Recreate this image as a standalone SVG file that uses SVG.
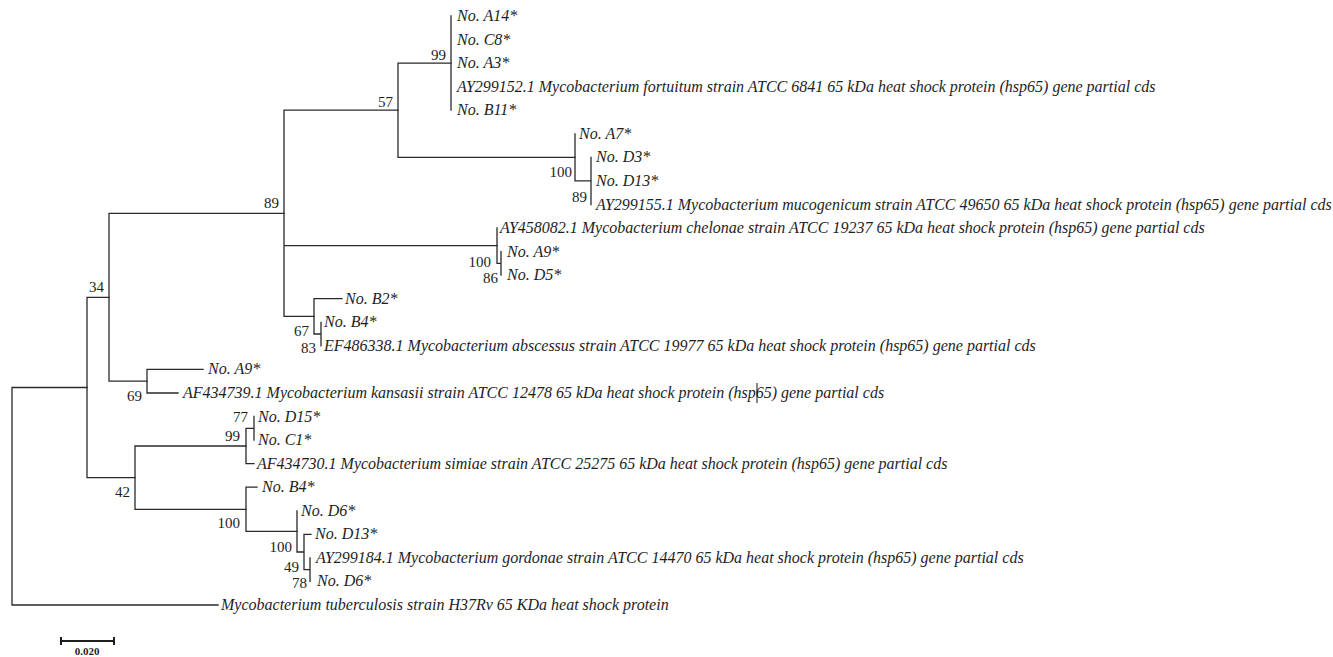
<svg xmlns="http://www.w3.org/2000/svg" width="1333" height="657" viewBox="0 0 1333 657">
<style>
.br{fill:none;stroke:#2a2a2a;stroke-width:1.3;stroke-linecap:square}
.lf{font-family:"Liberation Serif","Times New Roman",serif;font-style:italic;font-size:16px;fill:#1e1e1e}
.bs{font-family:"Liberation Serif","Times New Roman",serif;font-size:15px;fill:#1e1e1e;text-anchor:end}
.sc{font-family:"Liberation Serif","Times New Roman",serif;font-weight:bold;font-size:11px;fill:#1e1e1e;text-anchor:middle}
</style>
<rect width="1333" height="657" fill="#ffffff"/>
<g id="connectors">
<path class="br" d="M12,387.5V605M12,387.5H87M12,605H218"/>
<path class="br" d="M87,297.3V477.7M87,297.3H109M87,477.7H135"/>
<path class="br" d="M109,213.3V381.2M109,213.3H284M109,381.2H147"/>
<path class="br" d="M284,110.2V316.4M284,110.2H398M284,245.7H497M284,316.4H314"/>
<path class="br" d="M398,63.1V157.4M398,63.1H451M398,157.4H575"/>
<path class="br" d="M451,16V110.2"/>
<path class="br" d="M575,133.8V180.9M575,180.9H591M591,157.4V204.5"/>
<path class="br" d="M497,228V263.4M497,263.4H501M501,251.6V275.2"/>
<path class="br" d="M314,298.7V334M314,298.7H342M314,334H321M321,322.3V345.8"/>
<path class="br" d="M147,369.4V393M147,369.4H203M147,393H178"/>
<path class="br" d="M135,446V509.3M135,446H246M135,509.3H246"/>
<path class="br" d="M246,428.3V463.6M246,428.3H254M246,463.6H254M254,416.5V440"/>
<path class="br" d="M246,487.2V531.4M246,487.2H257M246,531.4H297"/>
<path class="br" d="M297,510.8V552M297,552H304M304,534.3V569.7M304,534.3H311M304,569.7H310M310,557.9V581.4"/>
</g>
<g id="n_fortuitum_cluster"><text class="bs" x="446" y="60">99</text>
<text class="lf" x="457" y="21">No. A14*</text>
<text class="lf" x="457" y="44.6">No. C8*</text>
<text class="lf" x="457" y="68.1">No. A3*</text>
<text class="lf" x="457" y="91.7">AY299152.1 Mycobacterium fortuitum strain ATCC 6841 65 kDa heat shock protein (hsp65) gene partial cds</text>
<text class="lf" x="457" y="115.2">No. B11*</text></g>
<g id="n57"><text class="bs" x="393" y="107">57</text></g>
<g id="n_mucogenicum_cluster"><text class="bs" x="572" y="177">100</text><text class="bs" x="587" y="202">89</text>
<text class="lf" x="579" y="138.8">No. A7*</text>
<text class="lf" x="596" y="162.4">No. D3*</text>
<text class="lf" x="596" y="185.9">No. D13*</text>
<text class="lf" x="596" y="209.5">AY299155.1 Mycobacterium mucogenicum strain ATCC 49650 65 kDa heat shock protein (hsp65) gene partial cds</text></g>
<g id="n89"><text class="bs" x="279" y="208">89</text></g>
<g id="n_chelonae_cluster"><text class="bs" x="491" y="267">100</text><text class="bs" x="498" y="283">86</text>
<text class="lf" x="500" y="233">AY458082.1 Mycobacterium chelonae strain ATCC 19237 65 kDa heat shock protein (hsp65) gene partial cds</text>
<text class="lf" x="507" y="256.6">No. A9*</text>
<text class="lf" x="507" y="280.2">No. D5*</text></g>
<g id="n_abscessus_cluster"><text class="bs" x="309" y="336">67</text><text class="bs" x="316" y="353">83</text>
<text class="lf" x="345" y="303.7">No. B2*</text>
<text class="lf" x="324" y="327.3">No. B4*</text>
<text class="lf" x="324" y="350.8">EF486338.1 Mycobacterium abscessus strain ATCC 19977 65 kDa heat shock protein (hsp65) gene partial cds</text></g>
<g id="n34"><text class="bs" x="104" y="292">34</text></g>
<g id="n_kansasii_cluster"><text class="bs" x="142" y="401">69</text>
<text class="lf" x="183" y="374.4" dx="25">No. A9*</text>
<text class="lf" x="183" y="398">AF434739.1 Mycobacterium kansasii strain ATCC 12478 65 kDa heat shock protein (hsp65) gene partial cds</text>
<line x1="757" y1="383" x2="757" y2="403" stroke="#111" stroke-width="1"/></g>
<g id="n42"><text class="bs" x="130" y="497">42</text></g>
<g id="n_simiae_cluster"><text class="bs" x="248" y="422">77</text><text class="bs" x="240" y="441">99</text>
<text class="lf" x="258" y="421.5">No. D15*</text>
<text class="lf" x="258" y="445">No. C1*</text>
<text class="lf" x="257" y="468.6">AF434730.1 Mycobacterium simiae strain ATCC 25275 65 kDa heat shock protein (hsp65) gene partial cds</text></g>
<g id="n_gordonae_cluster"><text class="bs" x="240" y="528">100</text><text class="bs" x="292" y="552">100</text><text class="bs" x="299" y="572">49</text><text class="bs" x="307" y="588">78</text>
<text class="lf" x="262" y="492.2">No. B4*</text>
<text class="lf" x="301" y="515.8">No. D6*</text>
<text class="lf" x="315" y="539.3">No. D13*</text>
<text class="lf" x="316" y="562.9">AY299184.1 Mycobacterium gordonae strain ATCC 14470 65 kDa heat shock protein (hsp65) gene partial cds</text>
<text class="lf" x="317" y="586.4">No. D6*</text></g>
<g id="n_tuberculosis"><text class="lf" x="221" y="610">Mycobacterium tuberculosis strain H37Rv 65 KDa heat shock protein</text></g>
<g id="scale_bar">
<path d="M61,641H114M61,637V645M114,637V645" fill="none" stroke="#1e1e1e" stroke-width="2"/>
<text class="sc" x="87" y="655">0.020</text></g>
</svg>
